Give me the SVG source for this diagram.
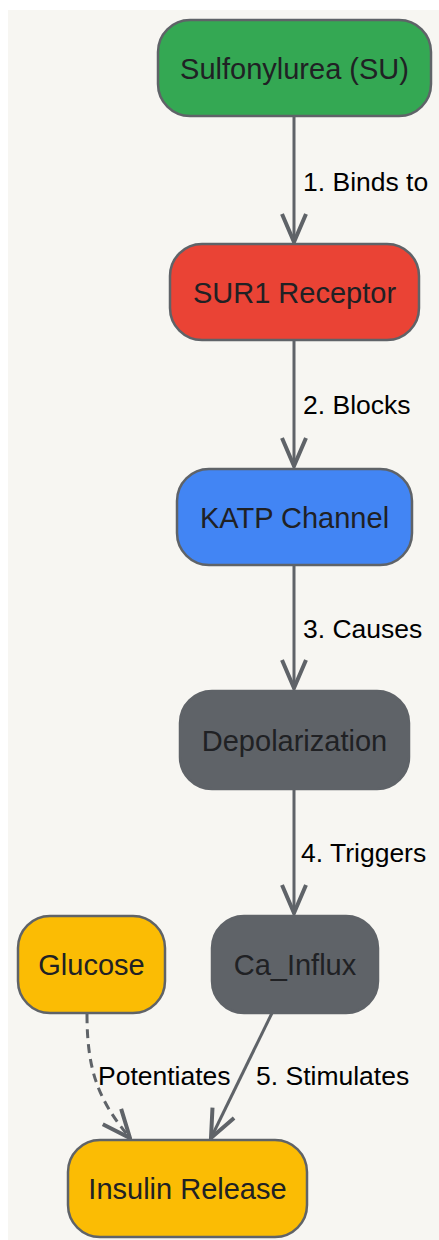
<svg xmlns="http://www.w3.org/2000/svg" width="439" height="1240" viewBox="0 0 439 1240">
<style>
.node rect{stroke:#5f6368;stroke-width:2.5}
.node text{font-family:"Liberation Sans",Arial,sans-serif;font-size:29px;fill:#202124;text-anchor:middle;dominant-baseline:central}
.edge{fill:none;stroke:#5f6368;stroke-width:3}
.lbl{font-family:"Liberation Sans",Arial,sans-serif;font-size:26.5px;fill:#000}
</style>
<defs>
<marker id="arr" viewBox="0 0 32 32" refX="30" refY="16" markerWidth="32" markerHeight="32" markerUnits="userSpaceOnUse" orient="auto">
<path d="M2,4 L30,16 L2,28" fill="none" stroke="#5f6368" stroke-width="4" stroke-linejoin="miter"/>
</marker>
</defs>
<rect x="8" y="10" width="431" height="1230" fill="#f7f6f2"/>
<g id="connectors">
<path class="edge" d="M294,117 L294,242" marker-end="url(#arr)"/>
<path class="edge" d="M294,341 L294,466" marker-end="url(#arr)"/>
<path class="edge" d="M294,566 L294,688" marker-end="url(#arr)"/>
<path class="edge" d="M294,790 L294,913" marker-end="url(#arr)"/>
<path class="edge" d="M272,1013 L211,1138" marker-end="url(#arr)"/>
<path class="edge" d="M87,1014 C87,1070 98,1100 130,1138" stroke-dasharray="9,6" marker-end="url(#arr)"/>
<text class="lbl" x="303" y="191">1. Binds to</text>
<text class="lbl" x="303" y="414">2. Blocks</text>
<text class="lbl" x="303" y="638">3. Causes</text>
<text class="lbl" x="301" y="862">4. Triggers</text>
<text class="lbl" x="98" y="1085">Potentiates</text>
<text class="lbl" x="256" y="1085">5. Stimulates</text>
</g>
<g id="su" class="node"><rect x="158" y="20" width="273" height="96" rx="32" fill="#34a853"/><text x="294.5" y="69">Sulfonylurea (SU)</text></g>
<g id="sur1" class="node"><rect x="170" y="244" width="249" height="96" rx="32" fill="#ea4335"/><text x="294.5" y="293">SUR1 Receptor</text></g>
<g id="katp" class="node"><rect x="177" y="469" width="235" height="96" rx="32" fill="#4285f4"/><text x="294.5" y="518">KATP Channel</text></g>
<g id="depol" class="node"><rect x="180" y="691" width="229" height="98" rx="32" fill="#5f6368"/><text x="294.5" y="741">Depolarization</text></g>
<g id="glucose" class="node"><rect x="18" y="916" width="147" height="97" rx="32" fill="#fbbc04"/><text x="91.5" y="965">Glucose</text></g>
<g id="ca" class="node"><rect x="212" y="916" width="166" height="97" rx="32" fill="#5f6368"/><text x="295" y="965">Ca_Influx</text></g>
<g id="insulin" class="node"><rect x="68" y="1140" width="239" height="97" rx="32" fill="#fbbc04"/><text x="187.5" y="1189">Insulin Release</text></g>
</svg>
